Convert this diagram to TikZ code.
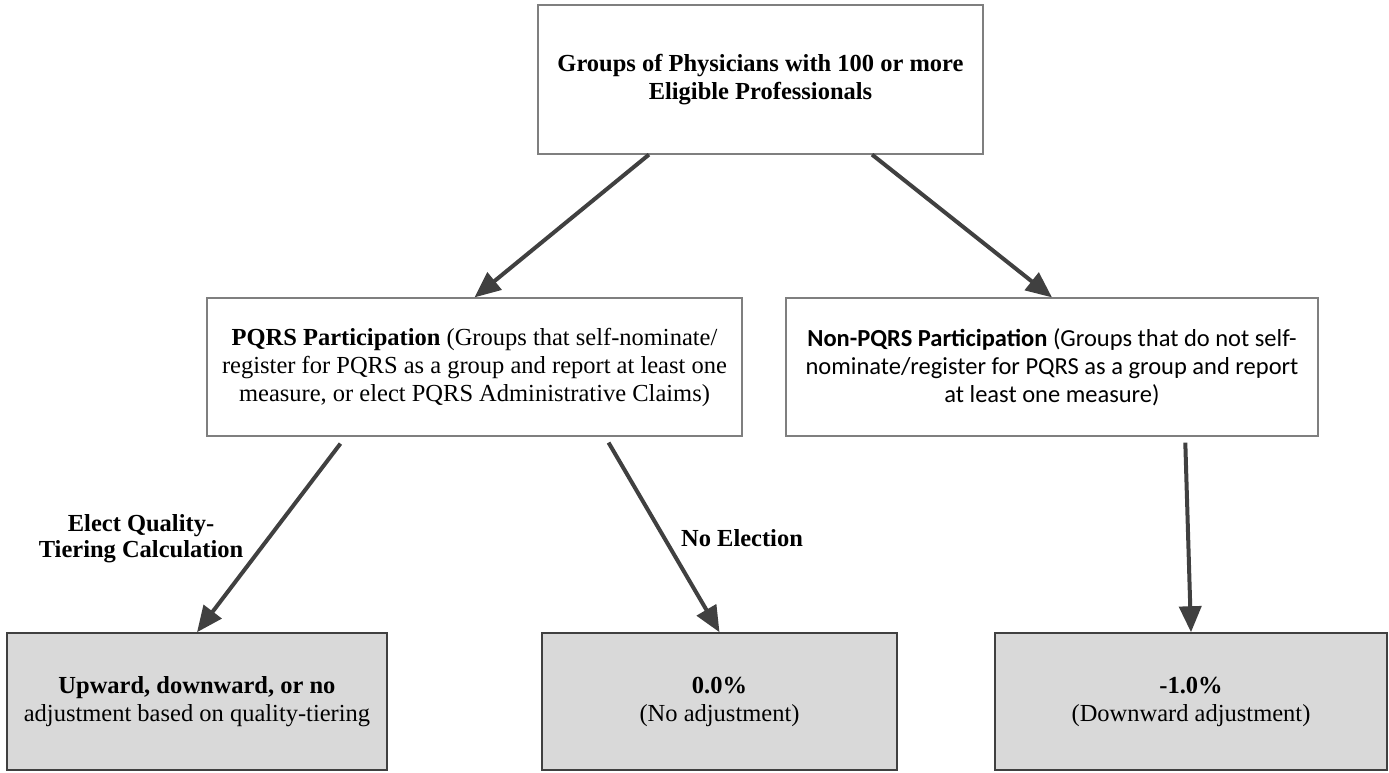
\documentclass[tikz,border=0pt]{standalone}
\usepackage{fontspec}
\setmainfont{Liberation Serif}
\newfontfamily\calibri{Carlito}
\usetikzlibrary{arrows.meta,calc}
\definecolor{arrowgray}{HTML}{404040}
\definecolor{boxline}{HTML}{7F7F7F}
\definecolor{fillgray}{HTML}{D9D9D9}
\begin{document}
\begin{tikzpicture}[x=1pt,y=-1pt,
  every node/.style={font=\fontsize{24.5}{28}\selectfont},
  whitebox/.style={draw=boxline, line width=1.2pt, fill=white, align=center, inner sep=0pt},
  graybox/.style={draw=arrowgray, line width=1.5pt, fill=fillgray, align=center, inner sep=0pt},
  conn/.style={draw=arrowgray, line width=4pt, -{Triangle[length=26pt,width=22pt]}},
  lbl/.style={align=center, inner sep=0pt, font=\fontsize{24.5}{26}\selectfont\bfseries}]
\useasboundingbox (0,0) rectangle (1389,772);

\node[whitebox, minimum width=445pt, minimum height=149pt] (top) at (760.5,79.5)
  {\textbf{Groups of Physicians with 100 or more}\\\textbf{Eligible Professionals}};

\node[whitebox, minimum width=535pt, minimum height=138pt] (pqrs) at (474.5,367)
  {\textbf{PQRS Participation} (Groups that self-nominate/\\register for PQRS as a group and report at least one\\measure, or elect PQRS Administrative Claims)};

\node[whitebox, minimum width=532pt, minimum height=138pt, font={\calibri\fontsize{24.5}{28}\selectfont}] (non) at (1052,367)
  {\textbf{Non-PQRS Participation} (Groups that do not self-\\nominate/register for PQRS as a group and report\\at least one measure)};

\node[graybox, minimum width=380pt, minimum height=137pt] (up) at (197,701.5)
  {\textbf{Upward, downward, or no}\\adjustment based on quality-tiering};

\node[graybox, minimum width=355pt, minimum height=137pt] (zero) at (719.5,701.5)
  {\textbf{0.0\%}\\(No adjustment)};

\node[graybox, minimum width=392pt, minimum height=137pt] (neg) at (1191,701.5)
  {\textbf{-1.0\%}\\(Downward adjustment)};

\node[lbl] (elect) at (141,539) {Elect Quality-\\Tiering Calculation};
\node[lbl] (noel) at (742,538) {No Election};

\path[conn] ($(top.south west)!0.25!(top.south east)$) -- (pqrs.north);
\path[conn] ($(top.south west)!0.75!(top.south east)$) -- (non.north);
\path[conn] ($(pqrs.south west)!0.25!(pqrs.south east)+(0,7)$) -- (up.north);
\path[conn] ($(pqrs.south west)!0.75!(pqrs.south east)+(0,6)$) -- (zero.north);
\path[conn] ($(non.south west)!0.75!(non.south east)+(0,6)$) -- (neg.north);
\end{tikzpicture}
\end{document}
